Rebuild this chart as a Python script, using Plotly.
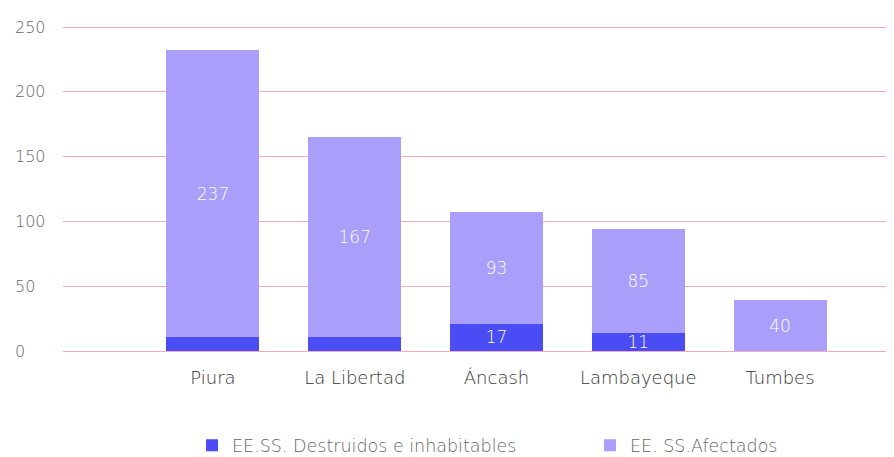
import plotly.graph_objects as go

categories = ["Piura", "La Libertad", "Áncash", "Lambayeque", "Tumbes"]
destruidos = [11, 11, 21, 14, 0]
afectados = [221, 154, 86, 80, 39]
destruidos_labels = ["", "", "17", "11", ""]
afectados_labels = ["237", "167", "93", "85", "40"]
y_ticks = [0, 50, 100, 150, 200, 250]
y_tick_labels = ["0", "50", "100", "150", "200", "250"]

dark = "#4a4cf4"
light = "#a99efa"
grid = "#f5aab9"
font_family = "'DejaVu Sans', sans-serif"

fig = go.Figure()
fig.add_trace(go.Bar(
    x=categories, y=destruidos, name="EE.SS. Destruidos e inhabitables",
    marker=dict(color=dark, line=dict(width=0)),
    text=destruidos_labels, textposition="inside", insidetextanchor="middle",
    textangle=0, constraintext="none",
    textfont=dict(color="white", size=17, family=font_family, weight=200),
    hoverinfo="x+y",
))
fig.add_trace(go.Bar(
    x=categories, y=afectados, name="EE. SS.Afectados",
    marker=dict(color=light, line=dict(width=0)),
    text=afectados_labels, textposition="inside", insidetextanchor="middle",
    textangle=0, constraintext="none",
    textfont=dict(color="white", size=17, family=font_family, weight=200),
    hoverinfo="x+y",
))

for v, lab in zip(y_ticks, y_tick_labels):
    fig.add_annotation(
        x=0, xref="paper", y=v, yref="y", xanchor="left", yanchor="middle",
        xshift=-50, text=lab, showarrow=False,
        font=dict(size=16, color="#666666", family=font_family, weight=200),
    )

fig.update_layout(
    barmode="stack",
    bargap=0.344,
    width=886, height=449,
    margin=dict(l=55, r=0, t=12, b=106),
    paper_bgcolor="white", plot_bgcolor="white",
    font=dict(family=font_family, color="#555555", size=15, weight=200),
    showlegend=True,
    legend=dict(
        orientation="h", xref="container", x=0.2077, xanchor="left",
        yref="container", y=0.026, yanchor="middle",
        font=dict(size=17.5, color="#666666", family=font_family, weight=200),
        entrywidth=353, traceorder="normal",
    ),
    xaxis=dict(
        range=[-1.058, 4.804], showgrid=False, zeroline=False, showline=False,
        ticks="", automargin=False, ticklabelstandoff=14,
        tickfont=dict(size=18, color="#333333", family=font_family, weight=200),
    ),
    yaxis=dict(
        range=[0, 255.4], tickvals=y_ticks, showticklabels=False,
        showgrid=True, gridcolor=grid, gridwidth=1,
        zeroline=True, zerolinecolor=grid, zerolinewidth=1,
        showline=False, ticks="", automargin=False,
    ),
)

fig.write_html("out.html")
